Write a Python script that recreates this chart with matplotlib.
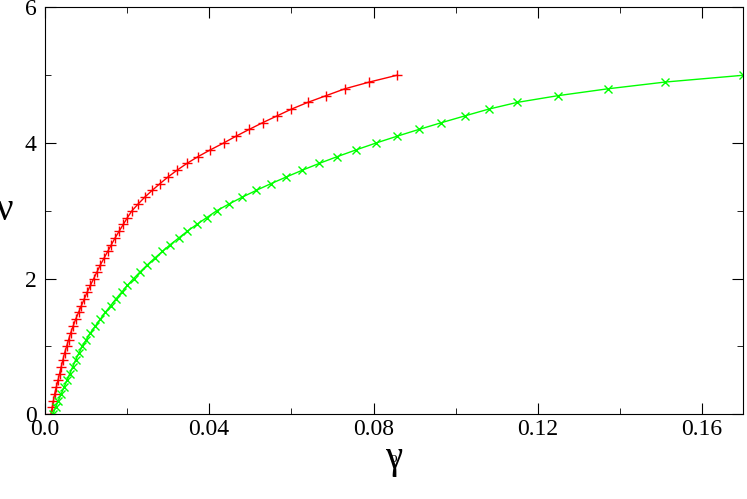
import matplotlib
matplotlib.use("Agg")
import matplotlib.pyplot as plt
from matplotlib.ticker import MultipleLocator

plt.rcParams["font.family"] = "Liberation Serif"

nu = [0.0, 0.1, 0.2, 0.3, 0.4, 0.5, 0.6, 0.7, 0.8, 0.9,
      1.0, 1.1, 1.2, 1.3, 1.4, 1.5, 1.6, 1.7, 1.8, 1.9,
      2.0, 2.1, 2.2, 2.3, 2.4, 2.5, 2.6, 2.7, 2.8, 2.9,
      3.0, 3.1, 3.2, 3.3, 3.4, 3.5, 3.6, 3.7, 3.8, 3.9,
      4.0, 4.1, 4.2, 4.3, 4.4, 4.5, 4.6, 4.7, 4.8, 4.9, 5.0]

gamma_red = [0.0015, 0.0018, 0.0021, 0.0024, 0.0028,
             0.0032, 0.0036, 0.0040, 0.0044, 0.0048,
             0.0053, 0.0058, 0.0063, 0.0069, 0.0075,
             0.0082, 0.0089, 0.0096, 0.0103, 0.0111,
             0.0119, 0.0127, 0.0135, 0.0144, 0.0153,
             0.0162, 0.0171, 0.0181, 0.0191, 0.0201,
             0.0212, 0.0227, 0.0243, 0.0261, 0.0280,
             0.0300, 0.0322, 0.0346, 0.0373, 0.0403,
             0.0435, 0.0465, 0.0497, 0.0530, 0.0565,
             0.0600, 0.0640, 0.0685, 0.0730, 0.0790, 0.0857]

gamma_green = [0.0020, 0.0026, 0.0033, 0.0040, 0.0047,
               0.0054, 0.0061, 0.0068, 0.0075, 0.0083,
               0.0091, 0.0101, 0.0111, 0.0123, 0.0135,
               0.0147, 0.0160, 0.0173, 0.0187, 0.0201,
               0.0216, 0.0232, 0.0249, 0.0267, 0.0286,
               0.0305, 0.0326, 0.0347, 0.0370, 0.0394,
               0.0418, 0.0448, 0.0480, 0.0514, 0.0550,
               0.0588, 0.0627, 0.0668, 0.0712, 0.0758,
               0.0806, 0.0857, 0.0910, 0.0965, 0.1022,
               0.1080, 0.1150, 0.1250, 0.1370, 0.1510, 0.1700]

fig, ax = plt.subplots(figsize=(7.47, 4.99), dpi=100)
fig.subplots_adjust(left=0.06, right=0.995, top=0.985, bottom=0.17)

ax.plot(gamma_red, nu, color="red", marker="+", markersize=7, lw=1)
ax.plot(gamma_green, nu, color="#00ff00", marker="x", markersize=6, lw=1)

ax.set_xlim(0, 0.17)
ax.set_ylim(0, 6)
ax.set_xticks([0, 0.04, 0.08, 0.12, 0.16])
ax.set_xticklabels(["0.0", "0.04", "0.08", "0.12", "0.16"])
ax.xaxis.set_minor_locator(MultipleLocator(0.02))
ax.yaxis.set_major_locator(MultipleLocator(2))
ax.yaxis.set_minor_locator(MultipleLocator(1))
ax.tick_params(which="both", direction="in", top=True, right=True, labelsize=17)
ax.tick_params(which="major", length=8)
ax.tick_params(which="minor", length=4)
ax.tick_params(axis="y", pad=6)

ax.set_xlabel("γ", fontsize=28, labelpad=0)
fig.text(0.527, 0.075, "o", fontsize=11, ha="center")
ax.set_ylabel("ν", fontsize=28, rotation=0, labelpad=14, va="center")

plt.savefig("out.png")
